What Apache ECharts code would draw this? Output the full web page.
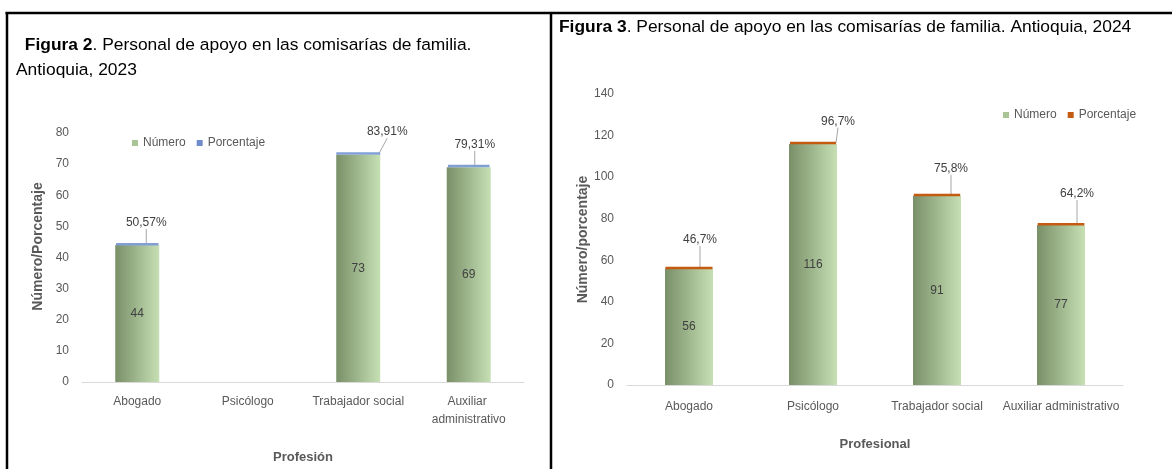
<!DOCTYPE html>
<html>
	<head>
		<meta charset="utf-8">
		<title>Personal de apoyo en las comisarías de familia</title>
		<script src="https://cdn.jsdelivr.net/npm/echarts@6/dist/echarts.min.js"></script>
		<style type="text/css">
			html, body {
				margin: 0;
				padding: 0;
				background: #fff;
			}

			#chart {
				width: 1172px;
				height: 469px;
			}
		</style>
	</head>

	<body>
		<div id="chart"></div>

		<script>
			// datos figura 2 (2023)
			var profesiones2023 = ['Abogado', 'Psicólogo', 'Trabajador social', 'Auxiliar administrativo'];
			var numero2023 = [44, null, 73, 69];
			var porcentaje2023 = [50.57, null, 83.91, 79.31];
			var ticks2023 = [0, 10, 20, 30, 40, 50, 60, 70, 80];

			// datos figura 3 (2024)
			var profesiones2024 = ['Abogado', 'Psicólogo', 'Trabajador social', 'Auxiliar administrativo'];
			var numero2024 = [56, 116, 91, 77];
			var porcentaje2024 = [46.7, 96.7, 75.8, 64.2];
			var ticks2024 = [0, 20, 40, 60, 80, 100, 120, 140];

			var fuente = "'Liberation Sans', Arial, sans-serif";
			var gris = '#595959';

			// desplazamiento de las etiquetas de porcentaje (como en excel)
			var despl2023 = [[9, -9], [0, -9], [29, -9], [6, -9]];
			var despl2024 = [[11, -16], [25, -9], [14, -14], [16, -18]];

			var verde = {
				type: 'linear',
				x: 0, y: 0, x2: 1, y2: 0,
				colorStops: [{
					offset: 0, color: '#798f68'
				}, {
					offset: 1, color: '#c6e0b4'
				}]
			};

			function serieNumero(nombre, datos, idx, ancho) {
				return {
					name: nombre,
					type: 'bar',
					stack: 'total' + idx,
					xAxisIndex: idx,
					yAxisIndex: idx,
					barWidth: ancho,
					animation: false,
					itemStyle: {
						color: verde
					},
					label: {
						show: true,
						position: 'inside',
						color: '#404040',
						fontSize: 12,
						fontFamily: fuente
					},
					data: datos
				};
			}

			function seriePct(nombre, pct, idx, ancho, color, dec, despl) {
				return {
					name: nombre,
					type: 'bar',
					stack: 'total' + idx,
					xAxisIndex: idx,
					yAxisIndex: idx,
					barWidth: ancho,
					animation: false,
					itemStyle: {
						color: color,
						borderColor: color,
						borderWidth: 2.5
					},
					label: {
						show: true,
						position: 'top',
						color: '#404040',
						fontSize: 12,
						fontFamily: fuente,
						formatter: function(p) {
							return pct[p.dataIndex].toFixed(dec).replace('.', ',') + '%';
						}
					},
					labelLine: {
						show: true,
						lineStyle: {
							color: '#a6a6a6',
							width: 1
						}
					},
					labelLayout: function(p) {
						var d = despl[p.dataIndex] || [0, 0];
						return {
							dx: d[0],
							dy: d[1]
						};
					},
					data: pct.map(function(v) {
						return v == null ? null : v / 100;
					})
				};
			}

			function ejeX(idx, cats, nombre, gap, margen) {
				return {
					type: 'category',
					gridIndex: idx,
					data: cats,
					name: nombre,
					nameLocation: 'middle',
					nameGap: gap,
					nameTextStyle: {
						color: gris,
						fontSize: 13,
						fontWeight: 'bold',
						fontFamily: fuente
					},
					axisLine: {
						lineStyle: {
							color: '#d9d9d9'
						}
					},
					axisTick: {
						show: false
					},
					axisLabel: {
						color: gris,
						fontSize: 12,
						fontFamily: fuente,
						margin: margen,
						lineHeight: 18,
						width: idx == 0 ? 105 : 124,
						overflow: 'break',
						interval: 0
					}
				};
			}

			function ejeY(idx, ticks, nombre, gap, subir) {
				return {
					type: 'value',
					gridIndex: idx,
					min: ticks[0],
					max: ticks[ticks.length - 1],
					interval: ticks[1] - ticks[0],
					name: nombre,
					nameLocation: 'middle',
					nameGap: gap,
					nameTextStyle: {
						color: gris,
						fontSize: 14,
						fontWeight: 'bold',
						fontFamily: fuente,
						padding: [0, 0, 0, subir]
					},
					splitLine: {
						show: false
					},
					axisLine: {
						show: false
					},
					axisTick: {
						show: false
					},
					axisLabel: {
						color: gris,
						fontSize: 12,
						fontFamily: fuente,
						margin: 13
					}
				};
			}

			var estiloTitulo = {
				fontSize: 17.4,
				fontWeight: 'normal',
				color: '#000',
				fontFamily: fuente,
				rich: {
					b: {
						fontSize: 17.4,
						fontWeight: 'bold',
						color: '#000',
						fontFamily: fuente
					}
				}
			};

			var estiloLeyenda = {
				color: gris,
				fontSize: 12,
				fontFamily: fuente
			};

			var chart = echarts.init(document.getElementById('chart'));

			chart.setOption({
				backgroundColor: '#fff',
				animation: false,
				title: [{
					text: ' {b|Figura 2}. Personal de apoyo en las comisarías de familia.',
					left: 20,
					top: 37,
					padding: 0,
					textStyle: estiloTitulo
				}, {
					text: 'Antioquia, 2023',
					left: 16,
					top: 62,
					padding: 0,
					textStyle: estiloTitulo
				}, {
					text: '{b|Figura 3}. Personal de apoyo en las comisarías de familia. Antioquia, 2024',
					left: 559,
					top: 19,
					padding: 0,
					textStyle: estiloTitulo
				}],
				legend: [{
					left: 127,
					top: 132,
					icon: 'rect',
					itemWidth: 6,
					itemHeight: 6,
					itemGap: 11,
					textStyle: estiloLeyenda,
					data: [{
						name: 'Número',
						itemStyle: { color: '#a9c596', borderWidth: 0 }
					}, {
						name: 'Porcentaje',
						itemStyle: { color: '#6f8dcb', borderWidth: 0 }
					}],
					selectedMode: false
				}, {
					left: 998,
					top: 104,
					icon: 'rect',
					itemWidth: 6,
					itemHeight: 6,
					itemGap: 11,
					textStyle: estiloLeyenda,
					data: [{
						name: 'Número',
						itemStyle: { color: '#a9c596', borderWidth: 0 }
					}, {
						name: 'Porcentaje',
						itemStyle: { color: '#c55a11', borderWidth: 0 }
					}],
					selectedMode: false
				}],
				grid: [{
					left: 82,
					right: 648,
					top: 133,
					bottom: 87
				}, {
					left: 627,
					right: 49,
					top: 94,
					bottom: 84
				}],
				xAxis: [
					ejeX(0, profesiones2023, 'Profesión', 69, 11),
					ejeX(1, profesiones2024, 'Profesional', 53, 13)
				],
				yAxis: [
					ejeY(0, ticks2023, 'Número/Porcentaje', 37, 22),
					ejeY(1, ticks2024, 'Número/porcentaje', 28, 0)
				],
				series: [
					serieNumero('Número', numero2023, 0, 44),
					seriePct('Porcentaje', porcentaje2023, 0, 44, '#819fd6', 2, despl2023),
					serieNumero('Número', numero2024, 1, 48),
					seriePct('Porcentaje', porcentaje2024, 1, 48, '#c55a11', 1, despl2024)
				],
				graphic: [{
					type: 'line',
					shape: { x1: 5.5, y1: 13, x2: 1172, y2: 13 },
					style: { stroke: '#000', lineWidth: 2.5 }
				}, {
					type: 'line',
					shape: { x1: 7, y1: 12, x2: 7, y2: 469 },
					style: { stroke: '#000', lineWidth: 2.5 }
				}, {
					type: 'line',
					shape: { x1: 551, y1: 12, x2: 551, y2: 469 },
					style: { stroke: '#000', lineWidth: 2.5 }
				}]
			});
		</script>
	</body>
</html>
